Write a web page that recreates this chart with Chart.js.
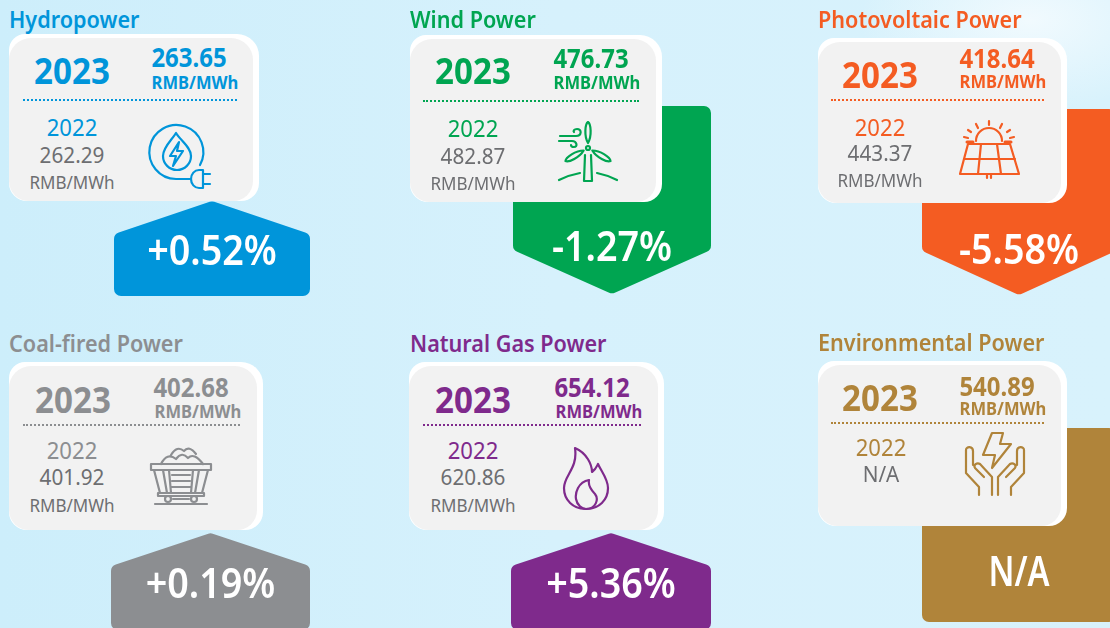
<!DOCTYPE html>
<html lang="en">
<head>
  <meta charset="UTF-8">
  <title>Average on-grid tariff by power type</title>
  <style>
    html, body { margin: 0; padding: 0; }
    body { width: 1110px; height: 628px; overflow: hidden; font-family: 'Noto Sans', Arial, sans-serif; }
    .page { position: relative; width: 1110px; height: 628px; overflow: hidden;
      background: radial-gradient(ellipse 170px 90px at 1030px 20px, #f1fafe 0%, rgba(241,250,254,0) 100%), linear-gradient(90deg, #cdeefb 0%, #d6f1fc 50%, #d8f2fc 100%); }
    .arrow { position: absolute; z-index: 1; }
    .card { position: absolute; z-index: 2; background: #fff; border-radius: 16px 22px 18px 18px; }
    .card .face { position: absolute; left: 0; top: 4px; right: 6px; bottom: 0; background: #f2f2f2; border-radius: 22px 22px 20px 20px; }
    /* the original face is narrower than Noto Sans, so squeeze it a little */
    .t { position: absolute; z-index: 3; transform: translate(-50%, -50%) scaleX(0.92); white-space: nowrap; line-height: 1; }
    .title { position: absolute; z-index: 3; transform-origin: left center; transform: translateY(-50%) scaleX(0.92); font-size: 23.5px; font-weight: 600; white-space: nowrap; line-height: 1; }
    .year23 { font-size: 36px; font-weight: 700; }
    .val23 { font-size: 26px; font-weight: 700; }
    .unit23 { font-size: 18px; font-weight: 700; }
    .year22 { font-size: 24px; }
    .val22 { font-size: 22.5px; color: #6d6e71; }
    .unit22 { font-size: 18.5px; color: #6d6e71; }
    .dots { position: absolute; z-index: 3; height: 0; border-top: 2px dotted; }
    .icon { position: absolute; z-index: 3; fill: none; stroke: currentColor; stroke-width: 2.2; stroke-linecap: round; stroke-linejoin: round; }
  </style>
</head>
<body>
  <div class="page" id="page"></div>

  <script src="https://cdn.jsdelivr.net/npm/chart.js"></script>
  <script>
    // data
    const categories = ['Hydropower', 'Wind Power', 'Photovoltaic Power', 'Coal-fired Power', 'Natural Gas Power', 'Environmental Power'];
    const price2023 = [263.65, 476.73, 418.64, 402.68, 654.12, 540.89];
    const price2022 = [262.29, 482.87, 443.37, 401.92, 620.86, null];
    const changePct = [0.52, -1.27, -5.58, 0.19, 5.36, null];
    const colors = ['#0095da', '#00a551', '#f45c22', '#8c8e91', '#7f2a8c', '#b0843a'];
    const unit = 'RMB/MWh';
    const yearNow = '2023';
    const yearPrev = '2022';

    // page layout, one entry per panel
    const titleY = [20, 20, 20, 344, 344, 343];
    const titleX = [9, 410, 818, 9, 410, 818];
    const cardBox = [[9, 34, 250, 167], [410, 35, 252, 167], [818, 38, 249, 165], [9, 362, 254, 168], [409, 362, 255, 168], [818, 361, 249, 165]];
    const arrowBox = [[114, 201, 196, 95], [513, 106, 198, 188], [922, 109, 194, 186], [111, 533, 199, 97], [511, 533, 200, 97], [922, 428, 194, 194]];
    const labelY = [253, 249, 252, 586, 586, 574];
    // y of: 2023, price, unit, dots, 2022, old price, old unit
    const rowY = [
      [71, 57, 82, 100, 127, 155, 182],
      [71, 58, 82, 101, 128, 156, 183],
      [75, 58, 81, 100, 127, 153, 180],
      [400, 387, 411, 425, 450, 477, 505],
      [400, 387, 411, 425, 450, 477, 505],
      [398, 386, 408, 423, 447, 474, 0]
    ];
    // x of: 2023, price, unit, dots left, dots right, 2022 column
    const colX = [
      [72, 189, 195, 23, 237, 72],
      [473, 591, 597, 423, 639, 473],
      [880, 997, 1003, 831, 1044, 880],
      [73, 191, 198, 23, 240, 72],
      [473, 592, 599, 423, 641, 473],
      [880, 997, 1003, 831, 1044, 881]
    ];
    const iconBox = [[148, 124, 64, 66], [558, 121, 59, 61], [959, 120, 61, 58], [149, 446, 64, 59], [563, 447, 46, 63], [965, 432, 60, 63]];
    const blade = 'M30 22C26 15 27 3 30 1C33 3 34 15 30 22Z';
    const iconPaths = [
      '<path d="M52 41A27 27 0 1 0 28 55H43"/><path d="M55 46H51A8 9 0 0 0 51 64H55Z"/><path d="M55 50H62M55 60H62"/><path d="M28 9C24 16 15 23 15 32A14 14 0 0 0 43 32C43 23 32 16 28 9Z"/><path d="M31 18L22 32H28L25 42L35 27H29Z"/>',
      '<path d="' + blade + '"/><path d="' + blade + '" transform="rotate(120 30 27)"/><path d="' + blade + '" transform="rotate(240 30 27)"/><circle cx="30" cy="27" r="2"/><path d="M27 34L26 60H34L33 34"/><path d="M1 59Q11 54 22 52M39 52Q49 54 59 59"/><path d="M2 15H18C24 15 24 8 19 8C16 8 15 10 16 11M1 20H14C19 20 20 26 16 26C14 26 13 25 13 24"/>',
      '<path d="M17 21A13 13 0 0 1 43 21"/><path d="M30 1V5M17 4L19 8M43 4L41 8M9 10L12 12M51 10L48 12M5 17L9 18M55 17L51 18"/><path d="M8 22H14M46 22H52" stroke-width="3"/><path d="M9 24H51L60 54H1Z"/><path d="M5 39H56M22 24L19 54M38 24L42 54M28 55V58M32 55V58"/>',
      '<path d="M22 9Q28 -1 35 5Q40 -1 47 8M12 18Q18 6 27 13Q33 5 39 12Q45 6 54 18"/><path d="M2 18H62V24H2Z"/><path d="M5 24L11 47H53L59 24"/><path d="M14 24L18 47M20 24L22 47M50 24L46 47M44 24L42 47M23 29H41M23 35H41M23 41H41"/><path d="M9 47H55V50H9Z"/><circle cx="19" cy="53" r="3"/><circle cx="45" cy="53" r="3"/><path d="M24 53H40M6 58H58"/>',
      '<path d="M12 1C24 6 29 18 29 25C33 22 34 19 35 17C38 24 45 32 45 41C45 53 36 62 23 62C10 62 1 53 1 41C1 28 15 22 12 1Z"/><path d="M26 33C15 35 12 46 13 52C14 58 19 62 23 62C33 62 36 52 32 47C28 43 25 38 26 33Z"/>',
      '<path d="M27 1H38L35 12H46L27 36L30 23H18Z"/><path d="M14 63V55L1 41V18C1 14 8 14 8 19V33M27 63V45L15 32C12 30 8 33 10 36L19 45"/><path d="M46 63V55L59 41V18C59 14 52 14 52 19V33M33 63V45L45 32C48 30 52 33 50 36L41 45"/>'
    ];

    const page = document.getElementById('page');

    function addText(cls, text, x, y, color) {
      const el = document.createElement('div');
      el.className = cls;
      el.textContent = text;
      el.style.left = x + 'px';
      el.style.top = y + 'px';
      if (color) el.style.color = color;
      page.appendChild(el);
    }

    // rounded polygon through the given points
    function roundedPath(ctx, pts, r) {
      const n = pts.length;
      ctx.beginPath();
      ctx.moveTo((pts[0][0] + pts[n - 1][0]) / 2, (pts[0][1] + pts[n - 1][1]) / 2);
      for (let i = 0; i < n; i++) {
        const p = pts[i], q = pts[(i + 1) % n];
        ctx.arcTo(p[0], p[1], q[0], q[1], r);
      }
      ctx.closePath();
    }

    // draws the bar as an arrow (or a plain box when there is no change figure)
    const arrowBar = {
      id: 'arrowBar',
      beforeDatasetDraw(chart, args) {
        const ctx = chart.ctx;
        const bar = chart.getDatasetMeta(args.index).data[0];
        const opts = chart.options.plugins.arrowBar;
        const { x, y, base, width } = bar.getProps(['x', 'y', 'base', 'width'], true);
        const left = x - width / 2, right = x + width / 2;
        const dir = y < base ? 1 : -1;
        const shoulder = y + dir * opts.head;
        let pts;
        if (opts.head > 0) {
          pts = [[left, base], [left, shoulder], [x, y], [right, shoulder], [right, base]];
        } else {
          pts = [[left, base], [left, y], [right, y], [right, base]];
        }
        ctx.save();
        ctx.fillStyle = bar.options.backgroundColor;
        roundedPath(ctx, pts, 7);
        ctx.fill();
        ctx.fillStyle = '#fff';
        ctx.font = "600 41px 'Noto Sans', Arial, sans-serif";
        ctx.textAlign = 'center';
        ctx.textBaseline = 'middle';
        ctx.translate(x, opts.labelY);
        ctx.scale(opts.labelSqueeze, 1);
        ctx.fillText(opts.label, 0, 0);
        ctx.restore();
        return false;
      }
    };

    categories.forEach(function (name, i) {
      const color = colors[i];
      const c = cardBox[i], a = arrowBox[i], r = rowY[i], k = colX[i], b = iconBox[i];
      const change = changePct[i];

      addText('title', name, titleX[i], titleY[i], color);

      const card = document.createElement('div');
      card.className = 'card';
      card.style.cssText = 'left:' + c[0] + 'px;top:' + c[1] + 'px;width:' + c[2] + 'px;height:' + c[3] + 'px;';
      card.innerHTML = '<div class="face"></div>';
      page.appendChild(card);

      addText('t year23', yearNow, k[0], r[0], color);
      addText('t val23', price2023[i].toFixed(2), k[1], r[1], color);
      addText('t unit23', unit, k[2], r[2], color);
      const dots = document.createElement('div');
      dots.className = 'dots';
      dots.style.cssText = 'left:' + k[3] + 'px;top:' + (r[3] - 1) + 'px;width:' + (k[4] - k[3]) + 'px;color:' + color + ';';
      page.appendChild(dots);
      addText('t year22', yearPrev, k[5], r[4], color);
      if (price2022[i] !== null) {
        addText('t val22', price2022[i].toFixed(2), k[5], r[5]);
        addText('t unit22', unit, k[5], r[6]);
      } else {
        addText('t val22', 'N/A', k[5], r[5]);
      }

      const holder = document.createElement('div');
      holder.innerHTML = '<svg class="icon" viewBox="0 0 ' + b[2] + ' ' + b[3] + '" width="' + b[2] + '" height="' + b[3] + '" style="left:' + b[0] + 'px;top:' + b[1] + 'px;color:' + color + ';overflow:visible">' + iconPaths[i] + '</svg>';
      page.appendChild(holder.firstChild);

      const canvas = document.createElement('canvas');
      canvas.className = 'arrow';
      canvas.width = a[2];
      canvas.height = a[3];
      canvas.style.left = a[0] + 'px';
      canvas.style.top = a[1] + 'px';
      page.appendChild(canvas);

      const value = change === null ? 1 : change;
      const head = change === null ? 0 : (change > 0 ? 33 : 44);
      const label = change === null ? 'N/A' : (change > 0 ? '+' : '') + change.toFixed(2) + '%';

      new Chart(canvas, {
        type: 'bar',
        data: {
          labels: [name],
          datasets: [{ data: [value], backgroundColor: color, barPercentage: 1, categoryPercentage: 1 }]
        },
        options: {
          responsive: false,
          animation: false,
          layout: { padding: 0 },
          scales: {
            x: { display: false },
            y: { display: false, min: Math.min(0, value), max: Math.max(0, value) }
          },
          plugins: {
            legend: { display: false },
            tooltip: { enabled: false },
            arrowBar: { head: head, label: label, labelY: labelY[i] - a[1], labelSqueeze: change === null ? 0.8 : 0.92 }
          }
        },
        plugins: [arrowBar]
      });
    });
  </script>
</body>
</html>
